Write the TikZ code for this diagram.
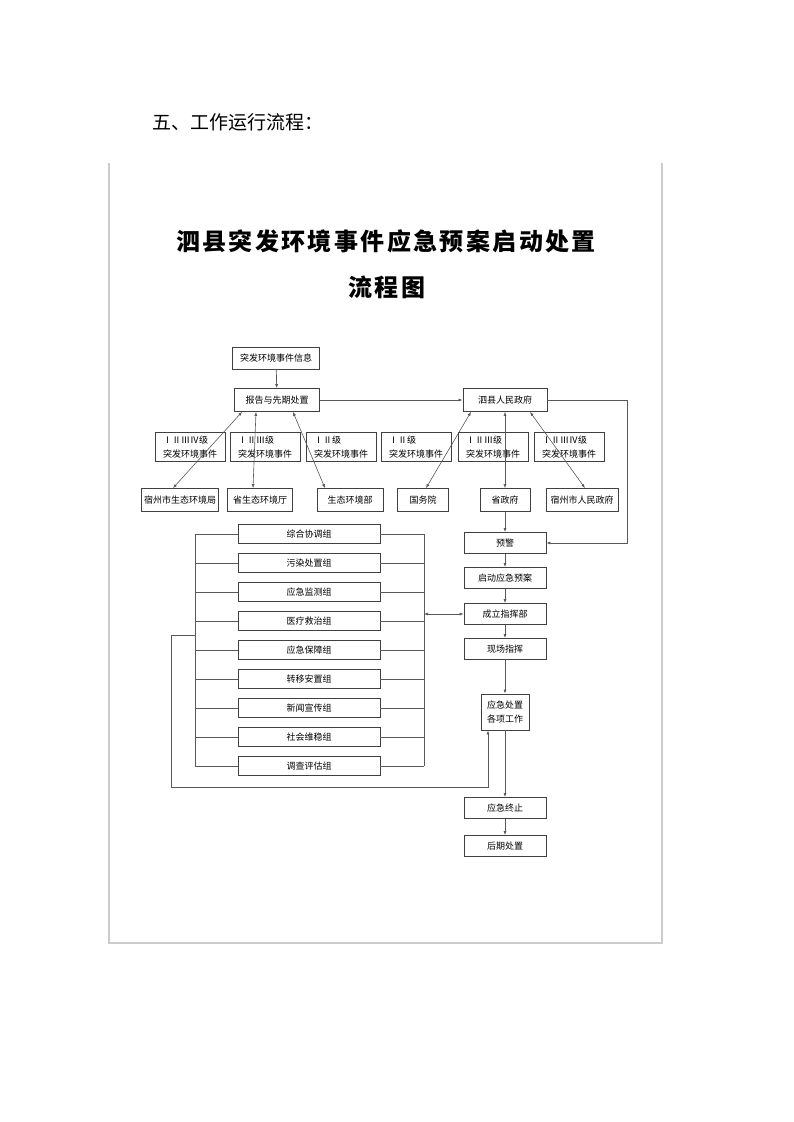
\documentclass[tikz,border=0pt]{standalone}
\usepackage{fontspec}
\newfontfamily\cjk{Noto Sans CJK SC}
\newfontfamily\cjktitle{Noto Sans CJK SC}[LetterSpace=10]
\usepackage{tikz}
\usetikzlibrary{arrows.meta,positioning,calc}
\tikzset{
  box/.style   = {draw=black!75, rectangle, line width=0.8pt, align=center,
                  font=\cjk\fontsize{9}{14}\selectfont, inner sep=1pt},
  lvl/.style   = {box, align=left, minimum width=70pt, minimum height=29pt},
  grp/.style   = {box, minimum width=142pt, minimum height=19pt},
  flow/.style  = {box, minimum width=82pt, minimum height=21pt},
  wire/.style  = {-{Latex[length=4pt,width=3pt]}, draw=black!65, line width=0.7pt},
  dwire/.style = {{Latex[length=4pt,width=3pt]}-{Latex[length=4pt,width=3pt]},
                  draw=black!65, line width=0.6pt},
  plain/.style = {draw=black!65, line width=0.7pt}
}

\begin{document}
\begin{tikzpicture}[x=1pt,y=-1pt]
\path[use as bounding box, fill=white] (0,0) rectangle (793,1122);

% --- heading and frame ---
\node[anchor=west, font=\cjk\fontsize{19}{22}\selectfont, inner sep=0] (head)
      at (152,122) {五、工作运行流程：};
\draw[black!20, line width=1.4pt] (109,163) -- (109,943) -- (662,943) -- (662,163);

% --- title ---
\node[font=\cjktitle\bfseries\fontsize{24}{28}\selectfont] (title1) at (386,241)
      {泗县突发环境事件应急预案启动处置};
\node[font=\cjktitle\bfseries\fontsize{24}{28}\selectfont] (title2) at (387,287)
      {流程图};

% --- top boxes ---
\node[box, minimum width=87pt, minimum height=22pt] (info) at (276,358) {突发环境事件信息};
\node[box, minimum width=85pt, minimum height=23pt] (rep) at (277,400) {报告与先期处置};
\node[box, minimum width=84pt, minimum height=23pt] (gov) at (505,400) {泗县人民政府};

% --- event levels ---
\foreach \n/\x/\lv in {1/190/ⅠⅡⅢⅣ, 2/265/ⅠⅡⅢ, 3/341/ⅠⅡ, 4/416/ⅠⅡ, 5/493/ⅠⅡⅢ, 6/569/ⅠⅡⅢⅣ}
  \node[lvl] (lv\n) at (\x,447) {\lv 级\\突发环境事件};

% --- authorities ---
\node[box, minimum width=77pt, minimum height=23pt] (szb) at (180,500) {宿州市生态环境局};
\node[box, minimum width=65pt, minimum height=23pt] (sst) at (260,500) {省生态环境厅};
\node[box, minimum width=66pt, minimum height=23pt] (mee) at (350,500) {生态环境部};
\node[box, minimum width=51pt, minimum height=23pt] (gwy) at (423,500) {国务院};
\node[box, minimum width=50pt, minimum height=23pt] (sgov) at (505,500) {省政府};
\node[box, minimum width=72pt, minimum height=23pt] (szgov) at (582,500) {宿州市人民政府};

% --- main chain ---
\node[flow] (warn) at (505,543) {预警};
\node[flow] (plan) at (505,578) {启动应急预案};
\node[flow] (cmd) at (505,614) {成立指挥部};
\node[flow] (site) at (505,649) {现场指挥};
\node[box, minimum width=48pt, minimum height=36pt] (work) at (505,712) {应急处置\\各项工作};
\node[flow] (stop) at (505,808) {应急终止};
\node[flow] (after) at (505,846) {后期处置};

% --- working groups ---
\foreach \i/\t in {1/综合协调组, 2/污染处置组, 3/应急监测组, 4/医疗救治组, 5/应急保障组,
                   6/转移安置组, 7/新闻宣传组, 8/社会维稳组, 9/调查评估组}
  \node[grp] (g\i) at (309,{505+29*\i}) {\t};

\coordinate (busL1) at (195,534);
\coordinate (busL9) at (195,766);
\coordinate (busR1) at (424,534);
\coordinate (busR9) at (424,766);

% --- connectors ---
\draw[wire] (info) -- (rep);
\draw[wire] (rep) -- (gov);
\draw[wire] (gov.east) -- ++(80,0) |- (warn.east);

\draw[dwire] ([xshift=-35pt]rep.south) -- ([xshift=-7pt]szb.north);
\draw[dwire] ([xshift=-21pt]rep.south) -- ([xshift=-7pt]sst.north);
\draw[dwire] ([xshift=16pt]rep.south) -- ([xshift=-25pt]mee.north);
\draw[dwire] ([xshift=-34pt]gov.south) -- ([xshift=3pt]gwy.north);
\draw[dwire] (gov.south) -- (sgov.north);
\draw[dwire] ([xshift=25pt]gov.south) -- ([xshift=3pt]szgov.north);

\draw[wire] (sgov) -- (warn);
\draw[wire] (warn) -- (plan);
\draw[wire] (plan) -- (cmd);
\draw[wire] (cmd) -- (site);
\draw[wire] (site) -- (work);
\draw[wire] (work) -- (stop);
\draw[wire] (stop) -- (after);

% group buses
\draw[plain] (busL1) -- (busL9);
\draw[plain] (busR1) -- (busR9);
\foreach \i in {1,...,9} {
  \draw[plain] (g\i.west) -- (g\i.west -| busL1);
  \draw[plain] (g\i.east) -- (g\i.east -| busR1);
}
\draw[dwire] (cmd.west -| busR1) -- (cmd.west);

% feedback loop into the work box
\coordinate (lpA) at (195,635);
\coordinate (lpB) at (171,635);
\coordinate (lpC) at (171,787);
\draw[wire] (lpA) -- (lpB) -- (lpC) -| ([xshift=-17pt]work.south);

\end{tikzpicture}
\end{document}
